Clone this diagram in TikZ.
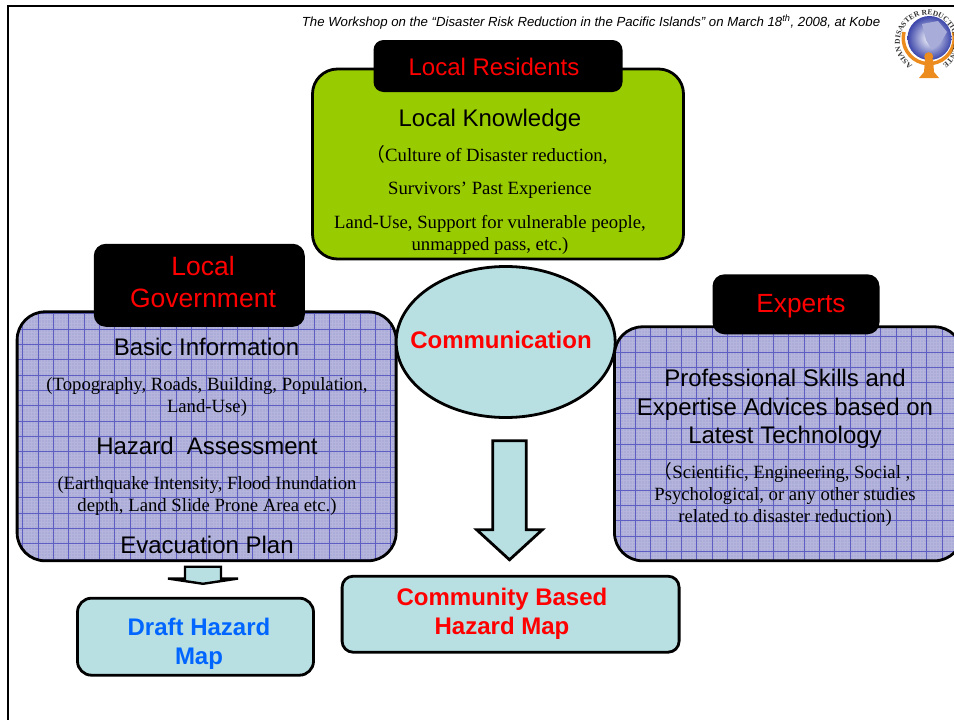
\documentclass[tikz,border=0pt]{standalone}
\usepackage{xcolor}
\usepackage{fontspec}
\setmainfont{Liberation Serif}
\setsansfont{Liberation Sans}
\newfontfamily\cjkfont{Noto Sans CJK JP}
\usetikzlibrary{shapes.geometric, shapes.arrows, arrows.meta, positioning, decorations.text}
\definecolor{residentcolor}{RGB}{153, 204, 0}
\definecolor{mapcolor}{RGB}{184, 223, 226}
\definecolor{planfill}{RGB}{172, 172, 217}
\definecolor{planminor}{RGB}{180, 180, 221}
\definecolor{planline}{RGB}{95, 95, 195}
\definecolor{draftblue}{RGB}{0, 102, 255}
\definecolor{logoorange}{RGB}{236, 140, 30}
\definecolor{logoblue}{RGB}{60, 70, 170}
\tikzset{
    headbox/.style={fill=black, rounded corners=10pt, inner sep=0pt},
    headtext/.style={red, align=center, font=\sffamily\fontsize{24}{32}\selectfont},
    bigtext/.style={align=center, font=\sffamily\fontsize{24}{28.6}\selectfont},
    smalltext/.style={align=center, font=\rmfamily\fontsize{18.7}{22}\selectfont},
    maptext/.style={align=center, font=\sffamily\bfseries\fontsize{24}{29}\selectfont},
    mapbox/.style={draw, line width=2.8pt, fill=mapcolor, inner sep=0pt},
    blockarrow/.style={draw, line width=2.8pt, fill=mapcolor, single arrow, shape border rotate=270},
    planbox/.style n args={2}{draw, line width=2.8pt, fill=planfill, rounded corners=28pt, inner sep=0pt,
        path picture={
            \draw[planminor, line width=0.4pt, shift={(#1,#2)}] (-200,-200) grid[step=3.07pt] (200,200);
            \draw[planline, line width=0.5pt, shift={(#1,#2)}] (-200,-200) grid[step=15.33pt] (200,200);
        }},
}

\begin{document}
\begin{tikzpicture}[x=1pt, y=-1pt]
    \useasboundingbox (0,0) rectangle (954,720);

    % Slide frame
    \draw[line width=2.4pt] (8,800) -- (8,6) -- (1000,6);
    \node[font=\sffamily\itshape\fontsize{13.2}{15}\selectfont] (workshop) at (591,22) {The Workshop on the “Disaster Risk Reduction in the Pacific Islands” on March 18\textsuperscript{th}, 2008, at Kobe};

    % Logo
    \shade[inner color=white, outer color=logoblue] (929.5,38) circle (22);
    \fill[logoblue!45] (922,24) -- (938,21) -- (947,32) -- (940,44) -- (932,50) -- (926,40) -- cycle;
    \draw[logoorange, line width=3.5pt] (904,32) arc (194:-14:25.5);
    \fill[logoorange] (928.7,56.7) circle (4.5);
    \fill[logoorange] (925,59) -- (933,59) -- (934,72) -- (939,78) -- (919,78) -- (924,72) -- cycle;
    \path[decorate, decoration={text along path, text align=fit to path,
        text={|\rmfamily\bfseries\fontsize{7.5}{8}\selectfont\color{black!80}|ASIAN DISASTER REDUCTION CENTER}}]
        (927,42) ++(122:27) arc (122:418:27);

    % Local residents
    \node[draw, line width=2.8pt, fill=residentcolor, rounded corners=25pt, minimum width=371, minimum height=190] (residents) at (498,164) {};
    \node[headbox, minimum width=249, minimum height=52] (residentshead) at (498,66) {};
    \node[headtext] (residentslabel) at (494,67) {Local Residents};
    \node[bigtext] (knowledge) at (490,120) {Local Knowledge};
    \node[smalltext] (culture) at (487,155) {{\cjkfont （}Culture of Disaster reduction,};
    \node[smalltext] (survivors) at (490,190) {Survivors’ Past Experience};
    \node[smalltext] (landuse) at (490,235) {Land-Use, Support for vulnerable people,\\unmapped pass, etc.)};

    % Local government
    \node[planbox={-5.05}{-1.3}, minimum width=379, minimum height=249] (government) at (206.6,436.3) {};
    \node[headbox, rounded corners=12pt, minimum width=211, minimum height=83] (governmenthead) at (199.3,285.3) {};
    \node[headtext, font=\sffamily\fontsize{26.5}{32}\selectfont] (governmentlabel) at (203,282) {Local\\Government};
    \node[bigtext] (basic) at (206.5,347) {Basic Information};
    \node[smalltext] (topography) at (207,397) {(Topography, Roads, Building, Population,\\Land-Use)};
    \node[bigtext] (hazard) at (207,446) {Hazard\ \ Assessment};
    \node[smalltext] (earthquake) at (207,496) {(Earthquake Intensity, Flood Inundation\\depth, Land Slide Prone Area etc.)};
    \node[bigtext] (evacuation) at (207,545) {Evacuation Plan};

    % Experts
    \node[planbox={3}{-1.3}, minimum width=348, minimum height=234] (experts) at (788.5,443.8) {};
    \node[headbox, rounded corners=12pt, minimum width=167, minimum height=60] (expertshead) at (796,304.3) {};
    \node[headtext, font=\sffamily\fontsize{26.3}{32}\selectfont] (expertslabel) at (801,306) {Experts};
    \node[bigtext] (skills) at (785,409) {Professional Skills and\\Expertise Advices based on\\Latest Technology};
    \node[smalltext] (studies) at (785,494.5) {{\cjkfont （}Scientific, Engineering, Social ,\hspace*{6pt}\\Psychological, or any other studies\\related to disaster reduction)};

    % Communication
    \node[draw, line width=2.8pt, fill=mapcolor, ellipse, minimum width=219, minimum height=151, inner sep=0pt] (communication) at (505.7,342) {};
    \node[maptext, red] (communicationlabel) at (501,340) {Communication};

    % Maps
    \node[mapbox, rounded corners=14pt, minimum width=236, minimum height=77] (draftmap) at (195.5,636.7) {};
    \node[maptext, draftblue] (draftlabel) at (199,643.5) {Draft Hazard\\Map};
    \node[mapbox, rounded corners=11pt, minimum width=337, minimum height=76] (communitymap) at (510.6,614.2) {};
    \node[maptext, red] (communitylabel) at (502,613.5) {Community Based\\Hazard Map};

    % Block arrows
    \node[blockarrow, inner sep=15.3pt, minimum height=119, minimum width=63, single arrow tip angle=95, single arrow head extend=16pt, anchor=tip] (commarrow) at (509.5,561.7) {};
    \node[blockarrow, line width=2.4pt, inner xsep=16.8pt, inner ysep=0pt, minimum height=17, minimum width=68, single arrow tip angle=163, single arrow head extend=17pt, anchor=tip] (draftarrow) at (203,585) {};
\end{tikzpicture}
\end{document}
